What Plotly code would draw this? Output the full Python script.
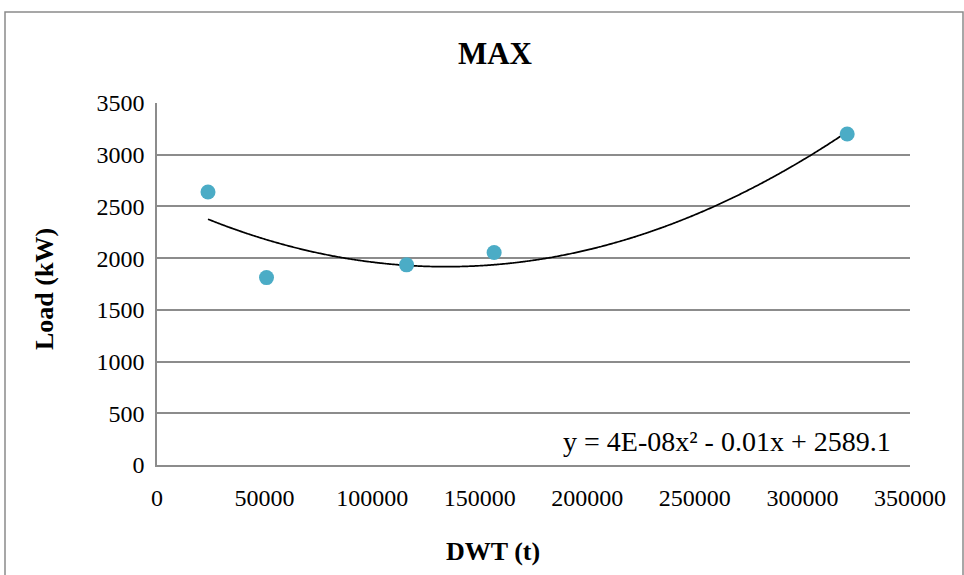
import numpy as np
import plotly.graph_objects as go

# Data
dwt = [23700, 50900, 116000, 156700, 320800]
load_kw = [2640, 1812, 1935, 2055, 3200]
x_ticks = [0, 50000, 100000, 150000, 200000, 250000, 300000, 350000]
y_ticks = [0, 500, 1000, 1500, 2000, 2500, 3000, 3500]
equation_text = "y = 4E-08x² - 0.01x + 2589.1"

# Polynomial (order 2) trendline fitted to the data
coef = np.polyfit(dwt, load_kw, 2)
xt = np.linspace(min(dwt), max(dwt), 300)
yt = np.polyval(coef, xt)

W, H = 964, 575
ml, mr, mt, mb = 157, 54, 103, 110
pw, ph = W - ml - mr, H - mt - mb

FONT = "Liberation Serif, Times New Roman, serif"
GRID = "#8c8c8c"

fig = go.Figure()
fig.add_trace(go.Scatter(x=xt, y=yt, mode="lines",
                         line=dict(color="black", width=1.7, shape="spline"),
                         hoverinfo="skip", showlegend=False))
fig.add_trace(go.Scatter(x=dwt, y=load_kw, mode="markers",
                         marker=dict(color="#4BACC6", size=15),
                         showlegend=False))

def px_x(p):
    return (p - ml) / pw

def px_y(p):
    return (H - mb - p) / ph

fig.add_shape(type="rect", xref="paper", yref="paper",
              x0=px_x(5), x1=px_x(963), y0=px_y(590), y1=px_y(12),
              line=dict(color="#8a8a8a", width=1.5), layer="below")

fig.add_annotation(text=equation_text, xref="paper", yref="paper",
                   x=px_x(893), y=px_y(441), showarrow=False,
                   xanchor="right", yanchor="middle",
                   font=dict(family=FONT, size=28, color="black"))
fig.add_annotation(text="<b>DWT (t)</b>", xref="paper", yref="paper",
                   x=px_x(493), y=px_y(551), showarrow=False,
                   xanchor="center", yanchor="middle",
                   font=dict(family=FONT, size=26, color="black"))
fig.add_annotation(text="<b>Load (kW)</b>", xref="paper", yref="paper",
                   x=px_x(44), y=px_y(289), showarrow=False, textangle=-90,
                   xanchor="center", yanchor="middle",
                   font=dict(family=FONT, size=26, color="black"))

fig.update_layout(
    width=W, height=H,
    margin=dict(l=ml, r=mr, t=mt, b=mb),
    paper_bgcolor="white", plot_bgcolor="white",
    font=dict(family=FONT, size=24, color="black"),
    title=dict(text="<b>MAX</b>", x=495 / W, y=1 - 53 / H,
               xref="container", yref="container",
               xanchor="center", yanchor="middle",
               font=dict(family=FONT, size=31, color="black")),
    xaxis=dict(range=[0, 350000], tickvals=x_ticks,
               ticktext=[str(v) for v in x_ticks],
               showgrid=False, zeroline=False,
               showline=True, linecolor=GRID, linewidth=1.5,
               ticks="", ticklabelstandoff=10),
    yaxis=dict(range=[0, 3500], tickvals=y_ticks,
               ticktext=[str(v) for v in y_ticks],
               showgrid=True, gridcolor=GRID, gridwidth=1.5,
               zeroline=False, showline=True, linecolor=GRID, linewidth=1.5,
               ticks="", ticklabelstandoff=6),
)

fig.write_html("out.html")
